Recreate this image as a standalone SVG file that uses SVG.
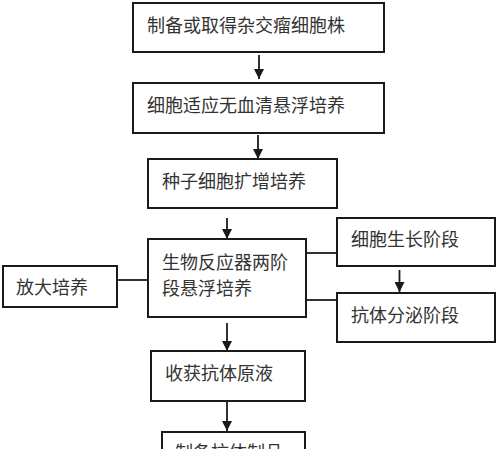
<svg xmlns="http://www.w3.org/2000/svg" width="500" height="449" viewBox="0 0 500 449">
<defs>
<style>
.box{fill:#fff;stroke:#1a1a1a;stroke-width:2}
.t{font-family:"Noto Sans CJK SC","Noto Sans",sans-serif;font-size:18px;fill:#333}
.ln{stroke:#1a1a1a;stroke-width:1.8;fill:none}
</style>
<marker id="ah" viewBox="0 0 10 10" refX="10" refY="5" markerWidth="10" markerHeight="10" markerUnits="userSpaceOnUse" orient="auto">
<path d="M0,0 L10,5 L0,10 Z" fill="#1a1a1a"/>
</marker>
</defs>
<rect width="500" height="449" fill="#fff"/>
<g id="connectors">
<line class="ln" x1="259" y1="55" x2="259" y2="79" marker-end="url(#ah)"/>
<line class="ln" x1="258" y1="135" x2="258" y2="159" marker-end="url(#ah)"/>
<line class="ln" x1="227" y1="218" x2="227" y2="239" marker-end="url(#ah)"/>
<line class="ln" x1="117" y1="280" x2="148" y2="280"/>
<line class="ln" x1="306" y1="253" x2="337" y2="253"/>
<line class="ln" x1="306" y1="300" x2="337" y2="300"/>
<line class="ln" x1="399.5" y1="270" x2="399.5" y2="292" marker-end="url(#ah)"/>
<line class="ln" x1="227" y1="323" x2="227" y2="351" marker-end="url(#ah)"/>
<line class="ln" x1="227" y1="401" x2="227" y2="431" marker-end="url(#ah)"/>
</g>
<g id="n1"><rect class="box" x="133" y="3" width="251" height="49"/><text class="t" x="147" y="32">制备或取得杂交瘤细胞株</text></g>
<g id="n2"><rect class="box" x="133" y="83" width="251" height="50"/><text class="t" x="147" y="112">细胞适应无血清悬浮培养</text></g>
<g id="n3"><rect class="box" x="148" y="159" width="189" height="49"/><text class="t" x="162" y="188">种子细胞扩增培养</text></g>
<g id="n4"><rect class="box" x="148" y="239" width="158" height="78"/><text class="t" x="162" y="268.5">生物反应器两阶</text><text class="t" x="162" y="295">段悬浮培养</text></g>
<g id="n5"><rect class="box" x="3" y="266" width="114" height="41"/><text class="t" x="16" y="293.5">放大培养</text></g>
<g id="n6"><rect class="box" x="337" y="218" width="158" height="48"/><text class="t" x="351" y="246">细胞生长阶段</text></g>
<g id="n7"><rect class="box" x="337" y="293" width="158" height="49"/><text class="t" x="351" y="322">抗体分泌阶段</text></g>
<g id="n8"><rect class="box" x="151" y="351" width="154" height="50"/><text class="t" x="165" y="379.5">收获抗体原液</text></g>
<g id="n9"><rect class="box" x="162" y="432" width="143" height="40"/><text class="t" x="175" y="459">制备抗体制品</text></g>
</svg>
